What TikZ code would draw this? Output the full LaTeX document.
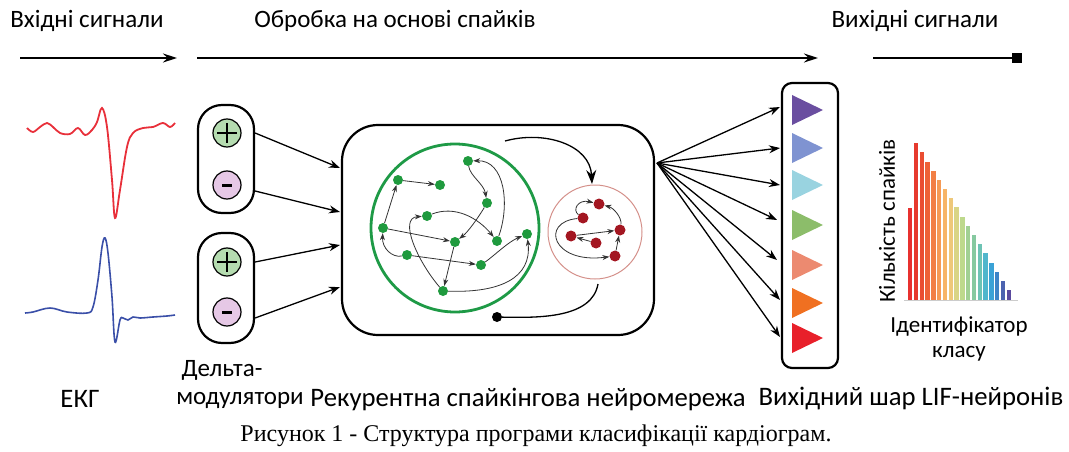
\documentclass[tikz,border=0pt]{standalone}
\usepackage{fontspec}
\setmainfont{Carlito}
\newfontfamily\capfont{Liberation Serif}
\usetikzlibrary{arrows.meta,calc}
\definecolor{gnode}{HTML}{1F9A3E}
\definecolor{gring}{HTML}{1E9A46}
\definecolor{rnode}{HTML}{A31621}
\definecolor{rring}{HTML}{D4908A}
\definecolor{plusc}{HTML}{B5DCB0}
\definecolor{minusc}{HTML}{E6C8E6}
\definecolor{ecgred}{HTML}{E8303A}
\definecolor{ecgblue}{HTML}{3A4FA8}
\definecolor{tA}{HTML}{6A4EA0}
\definecolor{tB}{HTML}{7F93D1}
\definecolor{tC}{HTML}{99D3E0}
\definecolor{tD}{HTML}{8CBD6A}
\definecolor{tE}{HTML}{EC8A70}
\definecolor{tF}{HTML}{F07021}
\definecolor{tG}{HTML}{E8202A}
\definecolor{b0}{HTML}{E8312F}
\definecolor{b1}{HTML}{E63A2E}
\definecolor{b2}{HTML}{EA4D32}
\definecolor{b3}{HTML}{EE6138}
\definecolor{b4}{HTML}{F27F45}
\definecolor{b5}{HTML}{F59A55}
\definecolor{b6}{HTML}{F7B467}
\definecolor{b7}{HTML}{EEC87A}
\definecolor{b8}{HTML}{D9D586}
\definecolor{b9}{HTML}{BED98C}
\definecolor{b10}{HTML}{A1D093}
\definecolor{b11}{HTML}{86C9A0}
\definecolor{b12}{HTML}{6DC3B4}
\definecolor{b13}{HTML}{50B6CC}
\definecolor{b14}{HTML}{3AA2D6}
\definecolor{b15}{HTML}{3D84C7}
\definecolor{b16}{HTML}{4C63B0}
\definecolor{b17}{HTML}{5A4A9E}
\begin{document}
\begin{tikzpicture}[x=1pt,y=-1pt,
  lbl/.style={font=\fontsize{25}{29}\selectfont, inner sep=0pt},
  blbl/.style={font=\fontsize{26.7}{30}\selectfont, inner sep=0pt},
  hlbl/.style={font=\fontsize{23}{27}\selectfont, inner sep=0pt},
  harrow/.style={line width=1.4pt, -{Stealth[length=14pt,width=9pt]}},
  bigarrow/.style={line width=1.3pt, -{Stealth[length=11pt,width=8pt]}},
  box/.style={draw, line width=2.2pt},
  pm/.style={circle, draw, line width=1.2pt, minimum size=28pt, inner sep=0pt},
  gn/.style={circle, fill=gnode, minimum size=10pt, inner sep=0pt},
  rn/.style={circle, fill=rnode, minimum size=11pt, inner sep=0pt},
  ne/.style={line width=0.8pt, draw=black!80, -{Stealth[length=7pt,width=5pt]}}]
\useasboundingbox (0,0) rectangle (1069,452);

% header
\node[lbl] (h1) at (87,21) {Вхідні сигнали};
\node[lbl] (h2) at (395,21) {Обробка на основі спайків};
\node[lbl] (h3) at (915,21) {Вихідні сигнали};
\coordinate (a1s) at (20,58); \coordinate (a1e) at (177,58);
\coordinate (a2s) at (197,58); \coordinate (a2e) at (818,58);
\coordinate (a3s) at (873,58); \coordinate (a3e) at (1022,58);
\draw[harrow] (a1s) -- (a1e);
\draw[harrow] (a2s) -- (a2e);
\draw[line width=1.4pt, -{Square[length=10pt,width=10pt]}] (a3s) -- (a3e);

% ECG
\draw[ecgred, line width=1.8pt] plot[smooth, tension=0.6] coordinates {(27,128) (33,132) (40,127) (47,123) (53,127) (60,133) (70,134) (78,128) (85,135) (92,130) (97,122) (102,108) (107,127) (112,180) (115,218) (120,190) (127,147) (133,133) (143,128) (153,127) (163,123) (170,127) (175,123)};
\draw[ecgblue, line width=1.6pt] plot[smooth, tension=0.6] coordinates {(25,313) (33,312) (50,308) (67,312) (87,313) (93,307) (98,280) (102,247) (105,238) (108,253) (112,297) (115,342) (120,320) (123,318) (128,320) (133,317) (140,318) (153,317) (167,316) (175,315)};

% delta modulators
\node[box, rounded corners=24pt, minimum width=56pt, minimum height=108pt] (dm1) at (226,159) {};
\node[box, rounded corners=24pt, minimum width=56pt, minimum height=110pt] (dm2) at (226,288) {};
\node[pm, fill=plusc] (p1) at (227,133) {};
\node[pm, fill=minusc] (m1) at (227,185) {};
\node[pm, fill=plusc] (p2) at (227,262) {};
\node[pm, fill=minusc] (m2) at (227,312) {};
\foreach \n in {p1,p2}{
  \draw[line width=2.2pt] ($(\n.center)+(-10,0)$) -- ($(\n.center)+(10,0)$);
  \draw[line width=2.2pt] ($(\n.center)+(0,-10)$) -- ($(\n.center)+(0,10)$);
}
\foreach \n in {m1,m2}{
  \draw[line width=3pt] ($(\n.center)+(-5,0)$) -- ($(\n.center)+(5,0)$);
}

% main recurrent box
\node[box, rounded corners=36pt, minimum width=312pt, minimum height=210pt] (rsnn) at (498,230) {};
\coordinate (i1) at (340,168); \coordinate (i2) at (340,212);
\coordinate (i3) at (340,245); \coordinate (i4) at (340,287);
\draw[bigarrow] (p1 -| dm1.east) -- (i1);
\draw[bigarrow] ($(m1 -| dm1.east)+(0,6)$) -- (i2);
\draw[bigarrow] (p2 -| dm2.east) -- (i3);
\draw[bigarrow] ($(m2 -| dm2.east)+(0,6)$) -- (i4);

% green ring and nodes
\node[circle, draw=gring, line width=2.8pt, minimum size=168pt, inner sep=0pt] (gring) at (455,228) {};
\node[gn] (n1) at (398,180) {};
\node[gn] (n2) at (440,185) {};
\node[gn] (n3) at (468,161) {};
\node[gn] (n4) at (487,203) {};
\node[gn] (n5) at (427,216) {};
\node[gn] (n6) at (383,228) {};
\node[gn] (n7) at (455,242) {};
\node[gn] (n8) at (497,241) {};
\node[gn] (n9) at (527,234) {};
\node[gn] (n10) at (407,255) {};
\node[gn] (n11) at (481,265) {};
\node[gn] (n12) at (443,291) {};
\draw[ne] (n1) -- (n2);
\draw[ne] (n6) -- (n1);
\draw[ne] (n6) -- (n7);
\draw[ne] (n10) .. controls (392,258) and (382,248) .. (n6);
\draw[ne] (n10) -- (n11);
\draw[ne] (n7) -- (n12);
\draw[ne] (n12) .. controls (418,262) and (398,218) .. (n5);
\draw[ne] (n5) .. controls (455,205) and (478,218) .. (n8);
\draw[ne] (n3) .. controls (470,176) and (484,184) .. (n4);
\draw[ne] (n4) .. controls (478,218) and (468,232) .. (n7);
\draw[ne] (n8) .. controls (510,205) and (505,160) .. (n3);
\draw[ne] (n11) .. controls (495,255) and (508,242) .. (n9);
\draw[ne] (n12) .. controls (500,293) and (532,278) .. (n9);

% red ring and nodes
\node[circle, draw=rring, line width=1pt, minimum size=94pt, inner sep=0pt] (rring) at (595,232) {};
\node[rn] (r1) at (599,204) {};
\node[rn] (r2) at (583,218) {};
\node[rn] (r3) at (620,230) {};
\node[rn] (r4) at (571,236) {};
\node[rn] (r5) at (596,243) {};
\node[rn] (r6) at (615,256) {};
\draw[ne] (r2) .. controls (572,210) and (578,199) .. (r1);
\draw[ne] (r3) .. controls (622,218) and (614,208) .. (r1);
\draw[ne] (r4) -- (r3);
\draw[ne] (r5) -- (r4);
\draw[ne] (r6) -- (r3);
\draw[ne] (r2) .. controls (540,222) and (552,264) .. (r6);

% transfer arcs
\coordinate (tarc) at (505,141);
\coordinate (tend) at (592,184);
\draw[line width=1.3pt, -{Stealth[length=14pt,width=10pt]}] (tarc) .. controls (545,130) and (590,145) .. (tend);
\coordinate (bstart) at (598,284);
\node[circle, fill=black, minimum size=10pt, inner sep=0pt] (dot) at (497,317) {};
\draw[line width=1.3pt] (bstart) .. controls (592,318) and (540,318) .. (dot);

% output layer
\node[box, rounded corners=10pt, minimum width=56pt, minimum height=285pt] (out) at (810,225.5) {};
\coordinate (fan) at (657,163);
\foreach \y/\c in {110/tA,148/tB,185/tC,225/tD,265/tE,303/tF,338/tG}{
  \fill[\c] (792,\y-15) -- (823,\y) -- (792,\y+15) -- cycle;
}
\foreach \ex/\ey [count=\i] in {780/107,780/148,780/185,777/220,777/260,780/300,780/337}{
  \coordinate (e\i) at (\ex,\ey);
  \draw[bigarrow] (fan) -- (e\i);
}

% histogram
\draw[black!20, line width=0.6pt] (904,300.5) -- (1018,300.5);
\fill[b0] (908,208) rectangle (912.3,300);
\foreach \k in {1,...,17}{
  \pgfmathsetmacro{\xx}{908+5.8*\k}
  \pgfmathsetmacro{\yy}{143.3+9.17*(\k-1)}
  \fill[b\k] (\xx,\yy) rectangle (\xx+4.3,300);
}
\node[hlbl, rotate=90] (ylab) at (887,221) {Кількість спайків};
\node[hlbl] (xlab1) at (959,326) {Ідентифікатор};
\node[hlbl] (xlab2) at (959,354) {класу};

% bottom labels
\node[blbl] (l1) at (80,399) {ЕКГ};
\node[lbl] (l2a) at (222,370) {Дельта-};
\node[lbl] (l2b) at (240,400) {модулятори};
\node[blbl] (l3) at (528,399) {Рекурентна спайкінгова нейромережа};
\node[blbl] (l4) at (911,399) {Вихідний шар LIF-нейронів};
\node[font=\capfont\fontsize{24}{28}\selectfont, inner sep=0pt] (cap) at (536,436) {Рисунок 1 - Структура програми класифікації кардіограм.};
\end{tikzpicture}
\end{document}
